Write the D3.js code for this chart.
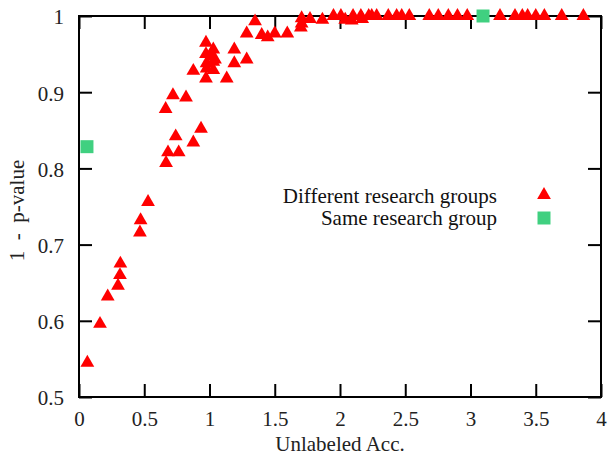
<!DOCTYPE html>
<html>
<head>
<meta charset="utf-8">
<script src="https://cdn.jsdelivr.net/npm/d3@7"></script>
<style>
  body { margin: 0; background: #fff; }
  svg { display: block; }
</style>
</head>
<body>
<div id="chart"></div>
<script>
// Different research groups
const diffX = [0.064, 0.161, 0.22, 0.299, 0.314, 0.317, 0.467, 0.472, 0.529, 0.667,
  0.682, 0.764, 0.876, 0.935, 0.741, 0.664, 0.72, 0.82, 0.876,
  0.973, 1.029, 0.973, 1.017, 1.042, 0.978, 1.029, 0.978, 1.029, 0.973,
  1.132, 1.19, 1.19, 1.285, 1.285, 1.349, 1.40, 1.446, 1.50, 1.596,
  1.706, 1.706, 1.70, 1.77, 1.865, 1.95, 2.007, 2.04, 2.09, 2.10, 2.16, 2.17, 2.22,
  2.243, 2.281, 2.37, 2.434, 2.473, 2.531, 2.684, 2.753, 2.83, 2.90, 2.975,
  3.226, 3.341, 3.397, 3.438, 3.50, 3.566, 3.699, 3.865];
const diffY = [0.545, 0.596, 0.632, 0.646, 0.66, 0.675, 0.716, 0.732, 0.756, 0.807,
  0.821, 0.821, 0.834, 0.852, 0.842, 0.878, 0.896, 0.893, 0.928,
  0.965, 0.956, 0.950, 0.947, 0.943, 0.938, 0.94, 0.931, 0.929, 0.918,
  0.918, 0.956, 0.938, 0.943, 0.977, 0.993, 0.975, 0.972, 0.977, 0.977,
  0.997, 0.99, 0.985, 0.996, 0.995, 1.0, 1.0, 0.995, 0.994, 1.0, 1.0, 0.996, 1.0,
  1.0, 1.0, 1.0, 1.0, 1.0, 1.0, 1.0, 1.0, 1.0, 1.0, 1.0,
  1.0, 1.0, 1.0, 1.0, 1.0, 1.0, 1.0, 1.0];

// Same research group
const sameX = [0.061, 3.096];
const sameY = [0.8285, 1.0];

const xTicks = [0, 0.5, 1, 1.5, 2, 2.5, 3, 3.5, 4];
const yTicks = [0.5, 0.6, 0.7, 0.8, 0.9, 1];
const seriesNames = ['Different research groups', 'Same research group'];

const width = 610, height = 455;
const margin = { top: 16, right: 9, bottom: 58, left: 79 };
const tickLen = 13;
const red = '#ff0000';
const green = '#40d080';
const font = 'Liberation Serif';
const fontSize = 21;

const x = d3.scaleLinear().domain([0, 4]).range([margin.left, width - margin.right]);
const y = d3.scaleLinear().domain([0.5, 1]).range([height - margin.bottom, margin.top]);

const svg = d3.select('#chart').append('svg')
  .attr('width', width)
  .attr('height', height)
  .attr('font-family', font)
  .attr('font-size', fontSize);

const fmt = d => String(+d.toFixed(1));

// axes with inward ticks, mirrored on top and right
const axBottom = svg.append('g')
  .attr('transform', `translate(0,${y.range()[0]})`)
  .call(d3.axisBottom(x).tickValues(xTicks).tickFormat(fmt).tickSize(-tickLen).tickPadding(15));
const axTop = svg.append('g')
  .attr('transform', `translate(0,${y.range()[1]})`)
  .call(d3.axisTop(x).tickValues(xTicks).tickFormat('').tickSize(-tickLen));
const axLeft = svg.append('g')
  .attr('transform', `translate(${x.range()[0]},0)`)
  .call(d3.axisLeft(y).tickValues(yTicks).tickFormat(fmt).tickSize(-tickLen).tickPadding(15));
const axRight = svg.append('g')
  .attr('transform', `translate(${x.range()[1]},0)`)
  .call(d3.axisRight(y).tickValues(yTicks).tickFormat('').tickSize(-tickLen));

[axBottom, axTop, axLeft, axRight].forEach(g => {
  g.attr('font-family', font).attr('font-size', fontSize);
  g.select('.domain').remove();
  g.selectAll('line').attr('stroke', '#000').attr('stroke-width', 2);
  g.selectAll('text').attr('fill', '#222');
});
axBottom.selectAll('text').attr('dy', '0.65em');
axLeft.selectAll('text').attr('dy', '0.38em');

svg.append('rect')
  .attr('x', x.range()[0])
  .attr('y', y.range()[1])
  .attr('width', x.range()[1] - x.range()[0])
  .attr('height', y.range()[0] - y.range()[1])
  .attr('fill', 'none')
  .attr('stroke', '#000')
  .attr('stroke-width', 2);

// axis titles
svg.append('text')
  .attr('x', (x.range()[0] + x.range()[1]) / 2)
  .attr('y', 451)
  .attr('text-anchor', 'middle')
  .attr('fill', '#222')
  .text('Unlabeled Acc.');

svg.append('text')
  .attr('transform', `translate(24,${(y.range()[0] + y.range()[1]) / 2 + 4}) rotate(-90)`)
  .attr('text-anchor', 'middle')
  .attr('fill', '#222')
  .style('white-space', 'pre')
  .text('1  -  p-value');

const tri = d3.symbol().type(d3.symbolTriangle).size(82);
const sq = d3.symbol().type(d3.symbolSquare).size(169);

svg.append('g').selectAll('path')
  .data(diffX.map((v, i) => [v, diffY[i]]))
  .join('path')
  .attr('transform', d => `translate(${x(d[0])},${y(d[1])})`)
  .attr('d', tri)
  .attr('fill', red);

svg.append('g').selectAll('path')
  .data(sameX.map((v, i) => [v, sameY[i]]))
  .join('path')
  .attr('transform', d => `translate(${x(d[0])},${y(d[1])})`)
  .attr('d', sq)
  .attr('fill', green);

// legend
const legend = svg.append('g');
seriesNames.forEach((name, i) => {
  const ly = 196 + i * 22;
  legend.append('text')
    .attr('x', 497)
    .attr('y', ly + 7)
    .attr('text-anchor', 'end')
    .attr('fill', '#111')
    .text(name);
  legend.append('path')
    .attr('transform', `translate(544,${ly - (i === 0 ? 1 : 0)})`)
    .attr('d', i === 0 ? tri : sq)
    .attr('fill', i === 0 ? red : green);
});
</script>
</body>
</html>
